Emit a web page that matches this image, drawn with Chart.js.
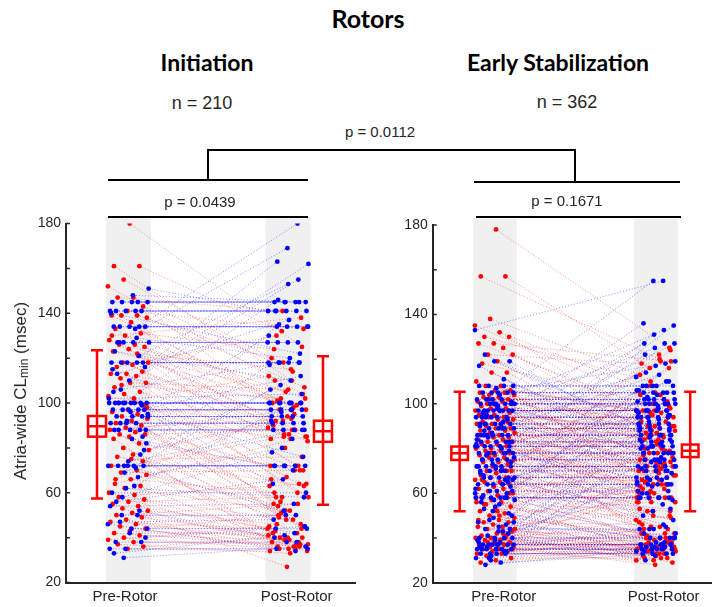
<!DOCTYPE html>
<html>
<head>
<meta charset="utf-8">
<script src="https://cdn.jsdelivr.net/npm/chart.js@4.4.1/dist/chart.umd.min.js"></script>
<style>
  body { margin: 0; background: #fff; }
  #wrap { position: relative; width: 715px; height: 607px; overflow: hidden;
          font-family: "Liberation Sans", Arial, sans-serif; color: #262626; }
  .t { position: absolute; transform: translate(-50%, -50%); line-height: 1; white-space: nowrap; }
  .h { font-family: Lato, "Open Sans", sans-serif; font-weight: 700; color: #000; }
  .ln { position: absolute; background: #000; }
  .pane { position: absolute; }
  #ylab { position: absolute; left: 21px; top: 391px; transform: translate(-50%, -50%) rotate(-90deg);
          font-size: 17px; line-height: 1; white-space: nowrap; }
  #ylab sub { font-size: 12px; vertical-align: -2px; }
</style>
</head>
<body>
<div id="wrap">
  <div class="pane" style="left:0;top:205px"><canvas id="init" width="360" height="402"></canvas></div>
  <div class="pane" style="left:360px;top:205px"><canvas id="stab" width="355" height="402"></canvas></div>

  <div class="t h" style="left:368px;top:18px;font-size:25px">Rotors</div>
  <div class="t h" style="left:207px;top:62px;font-size:23px">Initiation</div>
  <div class="t h" style="left:558px;top:62px;font-size:23px">Early Stabilization</div>
  <div class="t" style="left:202px;top:103px;font-size:18px">n = 210</div>
  <div class="t" style="left:567px;top:102px;font-size:18px">n = 362</div>
  <div class="t" style="left:380px;top:131px;font-size:15px">p = 0.0112</div>
  <div class="t" style="left:200px;top:201px;font-size:15px">p = 0.0439</div>
  <div class="t" style="left:567px;top:200px;font-size:15px">p = 0.1671</div>

  <div class="ln" style="left:207px;top:149px;width:369px;height:2px"></div>
  <div class="ln" style="left:207px;top:149px;width:2px;height:32px"></div>
  <div class="ln" style="left:574px;top:149px;width:2px;height:33px"></div>
  <div class="ln" style="left:108px;top:179px;width:200px;height:2px"></div>
  <div class="ln" style="left:474px;top:180.5px;width:206px;height:2px"></div>
  <div class="ln" style="left:108px;top:216px;width:200px;height:2px"></div>
  <div class="ln" style="left:476px;top:216px;width:205px;height:2px"></div>

  <div id="ylab">Atria-wide CL<sub>min</sub> (msec)</div>
</div>

<script>
// categories and ticks
const xLabels = ["Pre-Rotor", "Post-Rotor"];
const yTickLabels = [20, 60, 100, 140, 180];

// Initiation (n = 210): blue pairs that stay flat, blue pairs that move, red pairs
const flatInitBlue = [145,145,145,145,145, 141,141,141,141,141, 134,134,134,134,134,
  127,127,127,127, 118,118,118,118,118, 100,100,100,100,100,100,100,100,
  97,97,97,97,97, 94,94,94,94, 91,91,91,91, 88,88,88,88, 72,72,72,72,72,72,
  60, 50,50, 44,44, 38,38, 35,35];
const preInitBlue = [133,127,116,110,105,121,100,151,148,113, 85,92,140,129,106,82,96,123,77,69,
  102,63,88,79,74,115,67,58,95,84, 56,99,62,54,71,47,40,42,33,52, 31,46];
const postInitBlue = [180,169,163,162,155,153,146,141,145,137, 135,130,122,120,118,117,112,110,108,106,
  104,100,96,92,88,84,80,78,76,70, 66,64,58,55,52,48,45,42,41,40, 36,34];
const preInitRed = [180,161,161,155,152,147,147,143,141,139, 139,139,138,136,133,131,130,128,126,126,
  125,124,123,121,118,118,117,116,114,113, 113,112,111,109,109,107,105,104,103,102,
  100,99,97,96,95,94,93,92,91,90, 89,88,87,86,86,85,84,82,80,79,
  77,76,74,72,72,70,69,68,66,64, 63,62,60,59,58,57,56,55,54,53,
  52,51,50,49,48,47,46,45,44,43, 42,41,40,39,38,37,36,35,130,122, 108,98,75,66];
const postInitRed = [125,110,132,120,104,114,141,100,133,98, 118,90,107,95,86,124,102,88,80,110,
  97,72,105,92,85,99,67,130,83,60, 94,101,58,72,106,54,89,64,86,49,
  112,70,52,97,63,46,84,56,72,44, 93,51,66,40,88,58,38,70,48,92,
  42,63,36,85,55,45,70,39,60,85, 35,52,43,64,37,48,58,34,42,27,
  46,37,55,40,36,44,38,35,50,41, 36,39,35,45,37,33,40,34,138,115, 102,84,76,97];

// Early Stabilization (n = 362)
const flatStabBlue = [108,108,108, 105,105,105,105, 102,102,102,102, 100,100,100,100,100,100,
  97,97,97,97,97,97,97,97, 94,94,94,94,94, 91,91,91,91,91, 89,89,89,89,
  86,86,86,86,86,86, 83,83,83,83, 81,81,81,81,81, 78,78,78,78,78, 75,75,75,75,
  72,72,72,72,72, 70,70,70, 67,67,67,67, 64,64,64,64, 61,61, 58,58,58,58,58,
  44,44, 40,40,40, 37,37,37,37,37,37, 35,35,35,35,35, 33,33,33];
const preStabBlue = [133,104,88,79,100,72,92,85,66,98, 75,60,105,82,70,94,63,54,90,58,
  48,76,45,68,42,52,39,64,36,50, 33,56,46,30,62,38,122,119,119,117,
  111,102,108,99,96,93,87,84,80,77, 74,71,69,66,61,57,55,53,51,49,
  47,43,41,40,37,35,34,32,31,29, 28,44,39,36,34,31,47,43,59,65,
  73,81,89,95,101,107,86,78,67,60, 97,91,83,57,38];
const postStabBlue = [155,155,136,135,133,131,127,127,127,125, 122,119,118,117,114,112,110,108,108,106,
  105,104,103,101,100,99,97,96,95,93, 92,90,88,86,85,84,84,82,88,80,
  78,76,74,71,69,66,63,60,57,55, 52,50,48,46,44,42,40,38,36,34,
  40,36,32,30,42,45,38,36,34,33, 35,60,65,70,75,80,72,78,98,102,
  106,110,113,100,88,95,74,66,58,53, 86,81,94,64,37];
const preStabRed = [178,157,157,138,135,132,130,130,127,127, 125,122,122,119,118,114,114,110,108,108,
  106,106,105,105,104,104,103,103,102,102, 101,101,100,100,99,99,98,98,97,97,
  96,96,95,95,94,94,93,93,92,92, 91,91,90,90,89,89,88,88,87,87,
  86,86,85,85,84,84,83,83,82,82, 81,80,80,79,79,78,77,77,76,76,
  75,74,74,73,72,72,71,70,70,69, 68,67,67,66,65,65,64,63,62,62,
  61,60,59,58,58,57,56,56,55,54, 53,52,51,50,49,48,47,47,46,45,
  45,44,43,42,41,41,40,40,39,39, 38,38,37,37,36,36,35,35,34,34,
  33,33,32,31,30,29,40,36,44,50, 55,60,63,48,42,38,35,52,66,70, 78,58];
const postStabRed = [125,120,116,113,98,104,110,92,119,96, 86,118,90,80,100,84,76,73,64,97,
  94,85,100,70,90,62,97,80,88,58, 105,75,68,92,83,40,97,64,87,72,
  56,101,78,90,61,94,84,38,70,99, 66,86,53,79,89,96,63,74,81,45,
  92,58,71,88,66,35,80,95,62,72, 86,50,77,68,102,60,84,42,73,90,
  65,56,79,70,87,48,64,74,36,58, 67,82,52,61,44,72,66,56,38,69,
  60,47,64,33,58,75,52,40,61,36, 49,31,56,42,38,64,34,46,29,37,
  52,32,40,35,30,44,36,33,39,31, 35,42,28,37,34,40,32,36,30,38,
  33,41,35,31,36,34,58,64,70,85, 96,116,122,78,60,50,45,90,104,124, 119,108];

// summary bars (left of Pre, right of Post): mean, box half-height, whisker low/high
const errInitMean = [89.6, 87.4];
const errInitBox = [4.6, 4.7];
const errInitLo = [57.4, 54.7];
const errInitHi = [123.5, 120.8];
const errStabMean = [77.9, 79.0];
const errStabBox = [3.0, 2.8];
const errStabLo = [52, 52];
const errStabHi = [105.4, 105.4];

const RED = "#ff0000", BLUE = "#0000ff", INK = "#262626";

// spread points across the column with a fixed golden-ratio sequence
function jit(i, a, b) { return ((i * a + b) % 1) - 0.5; }

function pairs(pre, post, xPre, xPost, spread, seed) {
  const line = [], dots = [];
  pre.forEach((v, i) => {
    const p1 = { x: xPre + spread * jit(i, 0.6180339887, seed), y: v };
    const p2 = { x: xPost + spread * jit(i, 0.7548776662, seed + 0.31), y: post[i] };
    line.push(p1, p2, { x: xPost, y: null });
    dots.push(p1, p2);
  });
  return { line, dots };
}

const decor = {
  id: "decor",
  beforeDatasetsDraw(chart, args, o) {
    const { ctx, chartArea, scales: { x, y } } = chart;
    ctx.save();
    ctx.fillStyle = "#f0f0f0";
    o.bands.forEach(b => {
      const l = x.getPixelForValue(b - o.bandHalf), r = x.getPixelForValue(b + o.bandHalf);
      const t = y.getPixelForValue(182.8);
      ctx.fillRect(l, t, r - l, chartArea.bottom - 1 - t);
    });
    ctx.restore();
  },
  afterDatasetsDraw(chart, args, o) {
    const { ctx, chartArea, scales: { x, y } } = chart;
    ctx.save();
    // inward ticks on the y axis
    ctx.strokeStyle = INK;
    ctx.lineWidth = 1.5;
    ctx.beginPath();
    for (let v = 20; v <= 180; v += 20) {
      const py = y.getPixelForValue(v);
      ctx.moveTo(chartArea.left, py);
      ctx.lineTo(chartArea.left + 4, py);
    }
    ctx.stroke();
    // mean / spread markers
    ctx.strokeStyle = RED;
    ctx.lineWidth = 2.5;
    o.errX.forEach((xv, i) => {
      const px = x.getPixelForValue(xv);
      const lo = y.getPixelForValue(o.lo[i]), hi = y.getPixelForValue(o.hi[i]);
      const m = y.getPixelForValue(o.mean[i]);
      const bt = y.getPixelForValue(o.mean[i] + o.box[i]);
      const bb = y.getPixelForValue(o.mean[i] - o.box[i]);
      const cap = 6, bw = o.boxHalfW;
      ctx.beginPath();
      ctx.moveTo(px, lo); ctx.lineTo(px, hi);
      ctx.moveTo(px - cap, lo); ctx.lineTo(px + cap, lo);
      ctx.moveTo(px - cap, hi); ctx.lineTo(px + cap, hi);
      ctx.stroke();
      ctx.fillStyle = "#fff";
      ctx.fillRect(px - bw, bt, 2 * bw, bb - bt);
      ctx.strokeRect(px - bw, bt, 2 * bw, bb - bt);
      ctx.beginPath();
      ctx.moveTo(px - bw, m); ctx.lineTo(px + bw, m);
      ctx.moveTo(px, bt); ctx.lineTo(px, bb);
      ctx.stroke();
    });
    ctx.restore();
  }
};

function panel(id, g, d) {
  const blue = pairs(d.flatBlue.concat(d.preBlue), d.flatBlue.concat(d.postBlue), g.bands[0], g.bands[1], g.spread, 0.11);
  const red = pairs(d.preRed, d.postRed, g.bands[0], g.bands[1], g.spread, 0.53);
  const lineDs = (data, color) => ({
    data, showLine: true, spanGaps: false, pointRadius: 0, borderWidth: 1,
    borderDash: [1, 2], borderColor: color, order: 5
  });
  const dotDs = (data, color, order) => ({
    data, showLine: false, pointRadius: 2.4, pointBorderWidth: 0,
    pointBackgroundColor: color, order
  });
  new Chart(document.getElementById(id), {
    type: "scatter",
    data: {
      datasets: [
        lineDs(red.line, "rgba(255,0,0,0.45)"),
        lineDs(blue.line, "rgba(0,0,255,0.45)"),
        dotDs(red.dots, RED, 2),
        dotDs(blue.dots, BLUE, 1)
      ]
    },
    options: {
      responsive: false,
      animation: false,
      events: [],
      layout: { padding: { top: g.padTop, right: g.padRight, left: 0, bottom: 0 } },
      plugins: {
        legend: { display: false },
        tooltip: { enabled: false },
        decor: {
          bands: g.bands, bandHalf: g.bandHalf, errX: g.errX, boxHalfW: g.boxHalfW,
          mean: d.mean, box: d.box, lo: d.lo, hi: d.hi
        }
      },
      scales: {
        x: {
          type: "linear", min: g.xMin, max: g.xMax,
          grid: { display: false, drawTicks: false },
          border: { display: true, color: INK, width: 2 },
          afterBuildTicks: s => { s.ticks = [{ value: 1 }, { value: 2 }]; },
          afterFit: s => { s.height = g.xH; },
          ticks: {
            autoSkip: false, maxRotation: 0, padding: 5, color: INK,
            font: { family: "'Liberation Sans', Arial, sans-serif", size: 15 },
            callback: v => xLabels[v - 1]
          }
        },
        y: {
          min: 20, max: 180,
          grid: { display: false, drawTicks: false },
          border: { display: true, color: INK, width: 2 },
          afterFit: s => { s.width = g.yW; },
          ticks: {
            stepSize: 20, padding: 5, color: INK,
            font: { family: "'Liberation Sans', Arial, sans-serif", size: 14 },
            callback: v => yTickLabels.includes(v) ? String(v) : ""
          }
        }
      }
    },
    plugins: [decor]
  });
}

panel("init",
  { xMin: 0.6564, xMax: 2.3395, bands: [1.02, 1.949], bandHalf: 0.131, spread: 0.24,
    errX: [0.837, 2.153], boxHalfW: 9, padTop: 18.5, padRight: 5, xH: 24.5, yW: 66 },
  { flatBlue: flatInitBlue, preBlue: preInitBlue, postBlue: postInitBlue,
    preRed: preInitRed, postRed: postInitRed,
    mean: errInitMean, box: errInitBox, lo: errInitLo, hi: errInitHi });

panel("stab",
  { xMin: 0.5555, xMax: 2.296, bands: [0.944, 1.951], bandHalf: 0.137, spread: 0.25,
    errX: [0.724, 2.166], boxHalfW: 8.3, padTop: 20, padRight: 0, xH: 24.3, yW: 72.7 },
  { flatBlue: flatStabBlue, preBlue: preStabBlue, postBlue: postStabBlue,
    preRed: preStabRed, postRed: postStabRed,
    mean: errStabMean, box: errStabBox, lo: errStabLo, hi: errStabHi });
</script>
</body>
</html>
